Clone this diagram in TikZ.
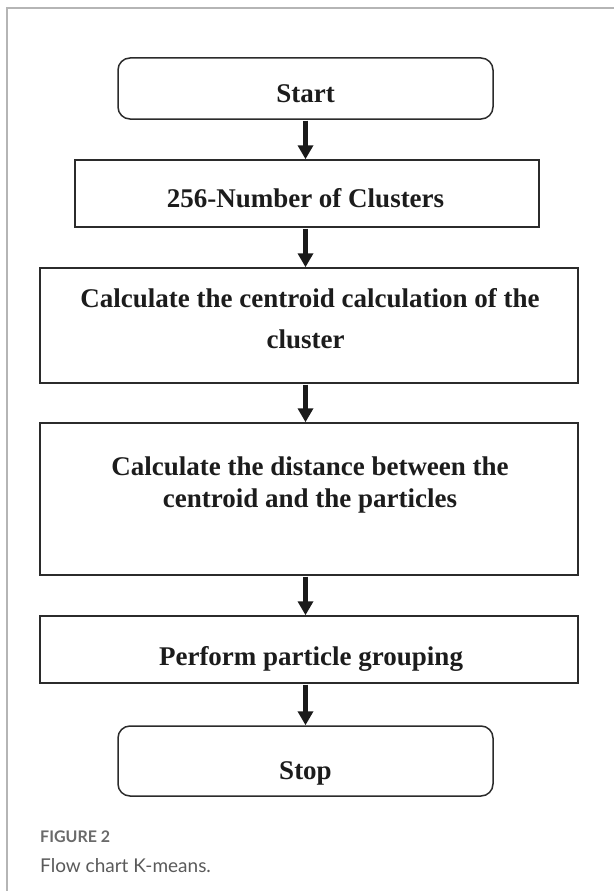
\documentclass[tikz,border=0pt]{standalone}
\usepackage{fontspec}
\setmainfont{Liberation Serif}
\newfontfamily\capfont{Lato}
\usetikzlibrary{arrows.meta}
\definecolor{boxline}{HTML}{2B2B2B}
\definecolor{arrowcol}{HTML}{1A1A1A}
\definecolor{framecol}{HTML}{B5B5B5}
\definecolor{capgray}{HTML}{6A6A6A}
\definecolor{capbody}{HTML}{5A5A5A}
\definecolor{textcol}{HTML}{1C1C1C}
\tikzset{
  rbox/.style={draw=boxline, line width=1.5pt, rounded corners=12pt, inner sep=0pt, minimum width=375pt},
  sbox/.style={draw=boxline, line width=1.5pt, inner sep=0pt},
  txt/.style={inner sep=0pt, anchor=base, text=textcol, font=\fontsize{27}{32}\selectfont\bfseries},
  arr/.style={draw=arrowcol, line width=5pt, -{Triangle[width=15pt,length=14pt]}, shorten <=0.75pt},
  framel/.style={draw=framecol, line width=1.5pt}
}
\begin{document}
\begin{tikzpicture}[x=1pt,y=-1pt]
\useasboundingbox (0,0) rectangle (614,891);
\draw[framel] (7,891) -- (7,8) -- (614,8);

% boxes
\node[rbox, minimum height=61pt] (start) at (305.5,88.5) {};
\node[sbox, minimum width=464pt, minimum height=67pt] (clusters) at (307,193.5) {};
\node[sbox, minimum width=538pt, minimum height=115pt] (centroid) at (309,325.5) {};
\node[sbox, minimum width=538pt, minimum height=152pt] (distance) at (309,499) {};
\node[sbox, minimum width=538pt, minimum height=67pt] (grouping) at (309,649.5) {};
\node[rbox, minimum height=70pt] (stop) at (305.5,761) {};

% texts
\node[txt] (tstart) at (305.5,102) {Start};
\node[txt] (tclusters) at (305.5,207) {256-Number of Clusters};
\node[txt] (tcentroid1) at (310,307) {Calculate the centroid calculation of the};
\node[txt] (tcentroid2) at (305.5,348) {cluster};
\node[txt] (tdistance1) at (310,475) {Calculate the distance between the};
\node[txt] (tdistance2) at (310,507) {centroid and the particles};
\node[txt] (tgrouping) at (311,665) {Perform particle grouping};
\node[txt] (tstop) at (305.5,779) {Stop};

% arrows
\draw[arr] (start.south) -- (start.south |- clusters.north);
\draw[arr] (start.south |- clusters.south) -- (start.south |- centroid.north);
\draw[arr] (start.south |- centroid.south) -- (start.south |- distance.north);
\draw[arr] (start.south |- distance.south) -- (start.south |- grouping.north);
\draw[arr] (start.south |- grouping.south) -- (stop.north);

% caption
\node[anchor=base west, inner sep=0pt, text=capgray, font=\capfont\bfseries\fontsize{16}{19}\selectfont] (figlabel) at (40,842) {FIGURE 2};
\node[anchor=base west, inner sep=0pt, text=capbody, font=\capfont\fontsize{19}{22}\selectfont] (figcap) at (40,872) {Flow chart K-means.};
\end{tikzpicture}
\end{document}
